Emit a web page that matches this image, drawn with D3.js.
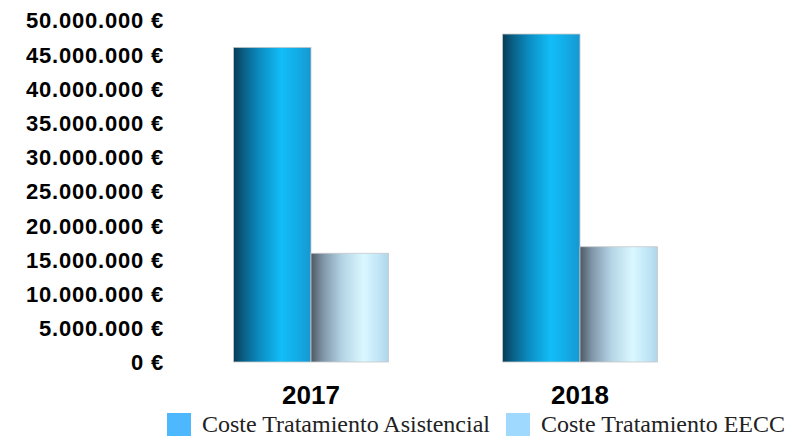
<!DOCTYPE html>
<html><head><meta charset="utf-8">
<script src="https://cdn.jsdelivr.net/npm/d3@7"></script>
<style>body{margin:0;background:#fff}svg{display:block}</style>
</head><body><svg id="c" width="786" height="436"></svg>
<script>
const categories = ["2017", "2018"];
const seriesNames = ["Coste Tratamiento Asistencial", "Coste Tratamiento EECC"];
const asistencial = [46000000, 47950000];
const eecc = [15900000, 16850000];
const yTicks = [0,5000000,10000000,15000000,20000000,25000000,30000000,35000000,40000000,45000000,50000000];
const legendColors = ["#4db8fd", "#9fd9fe"];

const svg = d3.select("#c");
const defs = svg.append("defs");
function grad(id, stops){
  const g = defs.append("linearGradient").attr("id", id).attr("x1","0%").attr("x2","100%").attr("y1","0%").attr("y2","0%");
  stops.forEach(s => g.append("stop").attr("offset", s[0]).attr("stop-color", s[1]));
}
grad("g0", [[0,"#073b55"],[0.12,"#0a5d82"],[0.35,"#0b8fc4"],[0.62,"#12bdf8"],[0.8,"#12aee8"],[1,"#1797d0"]]);
grad("g1", [[0,"#4e5862"],[0.15,"#7d94a6"],[0.4,"#b4d4e6"],[0.68,"#d9f8ff"],[0.85,"#c4e8f8"],[1,"#aed6ea"]]);

const y = d3.scaleLinear().domain([0, 50000000]).range([362, 20]);
const x0 = d3.scaleBand().domain(categories).range([176.5, 714.5]).paddingInner(0.424).paddingOuter(0.212);
const x1 = d3.scaleBand().domain([0,1]).range([0, x0.bandwidth()]);

const fmt = v => d3.format(",")(v).replace(/,/g, ".") + " €";
const yAxis = d3.axisLeft(y).tickValues(yTicks).tickFormat(fmt).tickSize(0).tickPadding(0);
const ga = svg.append("g").attr("transform","translate(164,0)").call(yAxis);
ga.select(".domain").remove();
ga.selectAll("text").attr("font-family","'Liberation Sans', Arial, sans-serif").attr("font-weight","bold").attr("font-size","22px").attr("letter-spacing","0.8px").attr("fill","#000").attr("dy","0.36em");

const data = categories.map((c,i) => ({c, vals:[asistencial[i], eecc[i]]}));
const groups = svg.append("g").selectAll("g").data(data).join("g").attr("transform", d => `translate(${x0(d.c)},0)`);
groups.selectAll("rect").data(d => d.vals.map((v,j)=>({v,j}))).join("rect")
  .attr("x", d => x1(d.j)).attr("width", x1.bandwidth())
  .attr("y", d => y(d.v)).attr("height", d => y(0) - y(d.v))
  .attr("fill", d => `url(#g${d.j})`).attr("stroke","#c8c8c8").attr("stroke-width",0.8);

const xAxis = d3.axisBottom(x0).tickSize(0).tickPadding(0);
const gx = svg.append("g").attr("transform","translate(0,385)").call(xAxis);
gx.select(".domain").remove();
gx.selectAll("text").attr("font-family","'Liberation Sans', Arial, sans-serif").attr("font-weight","bold").attr("font-size","26px").attr("fill","#000").attr("dy","0.72em");

const legX = [167, 506];
const lg = svg.append("g").selectAll("g").data(seriesNames).join("g").attr("transform",(d,i)=>`translate(${legX[i]},413)`);
lg.append("rect").attr("width",24).attr("height",23).attr("fill",(d,i)=>legendColors[i]);
lg.append("text").attr("x",35).attr("y",19).text(d=>d).attr("font-family","'Liberation Serif', 'Times New Roman', serif").attr("font-size","24px").attr("fill","#222");
</script></body></html>
